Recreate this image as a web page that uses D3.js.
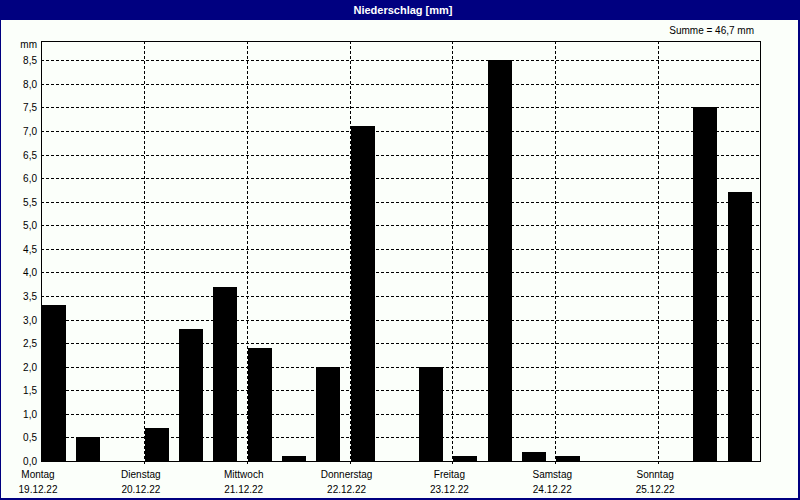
<!DOCTYPE html>
<html>
<head>
<meta charset="utf-8">
<script src="https://cdn.jsdelivr.net/npm/d3@7"></script>
<style>
html,body{margin:0;padding:0;background:#fbfffa;}
svg{display:block;}
text{font-family:"Liberation Sans",Arial,sans-serif;}
</style>
</head>
<body>
<svg id="c" width="800" height="500"></svg>
<script>
const title = "Niederschlag [mm]";
const sumLabel = "Summe = 46,7 mm";
const unitLabel = "mm";
const dayNames = ["Montag","Dienstag","Mittwoch","Donnerstag","Freitag","Samstag","Sonntag"];
const dayDates = ["19.12.22","20.12.22","21.12.22","22.12.22","23.12.22","24.12.22","25.12.22"];
const slotsPerDay = 3;
const values = [3.3,0.5,0, 0.7,2.8,3.7, 2.4,0.1,2.0, 7.1,0,2.0, 0.1,8.5,0.2, 0.1,0,0, 0,7.5,5.7];
const yTicks = [0,0.5,1,1.5,2,2.5,3,3.5,4,4.5,5,5.5,6,6.5,7,7.5,8,8.5];

const svg = d3.select("#c");
const W = 800, H = 500;
const L = 41, R = 761, T = 41, B = 461;

svg.append("rect").attr("x",0).attr("y",0).attr("width",W).attr("height",H).attr("fill","#fbfffa");
// frame
svg.append("rect").attr("x",0).attr("y",0).attr("width",W).attr("height",20).attr("fill","#000080");
svg.append("rect").attr("x",0).attr("y",0).attr("width",1).attr("height",H).attr("fill","#000080");
svg.append("rect").attr("x",798).attr("y",0).attr("width",2).attr("height",H).attr("fill","#000080");
svg.append("rect").attr("x",0).attr("y",498).attr("width",W).attr("height",2).attr("fill","#000080");

svg.append("text").attr("x",403).attr("y",14).attr("text-anchor","middle")
  .attr("fill","#fff").attr("font-weight","bold").attr("font-size","11px").text(title);
svg.append("text").attr("x",754).attr("y",34).attr("text-anchor","end")
  .attr("fill","#000").attr("font-size","10px").text(sumLabel);

const nSlots = dayNames.length * slotsPerDay;
const x = d3.scaleLinear().domain([0,nSlots]).range([L,R]);
const y = d3.scaleLinear().domain([0,8.5]).range([B,60.3]);

// horizontal grid
svg.append("g").selectAll("line").data(yTicks.filter(d=>d>0)).join("line")
  .attr("x1",L).attr("x2",R)
  .attr("y1",d=>Math.round(y(d))+0.5).attr("y2",d=>Math.round(y(d))+0.5)
  .attr("stroke","#000").attr("stroke-width",1).attr("stroke-dasharray","3,2");
// vertical day grid
const dayIdx = d3.range(1,dayNames.length);
svg.append("g").selectAll("line").data(dayIdx).join("line")
  .attr("x1",d=>Math.round(x(d*slotsPerDay))+0.5).attr("x2",d=>Math.round(x(d*slotsPerDay))+0.5)
  .attr("y1",T).attr("y2",B+4)
  .attr("stroke","#000").attr("stroke-width",1).attr("stroke-dasharray","3,2");

// bars
svg.append("g").selectAll("rect").data(values).join("rect")
  .attr("x",(d,i)=>Math.round(x(i))+1)
  .attr("width",24)
  .attr("y",d=>Math.round(y(d)))
  .attr("height",d=>B-Math.round(y(d)))
  .attr("fill","#000");

// plot frame
svg.append("rect").attr("x",L+0.5).attr("y",T+0.5).attr("width",R-L-1).attr("height",B-T)
  .attr("fill","none").attr("stroke","#000").attr("stroke-width",1);

// y tick labels
const fmt = d => d.toFixed(1).replace(".",",");
svg.append("g").selectAll("text").data(yTicks).join("text")
  .attr("x",37).attr("y",d=>y(d)+4).attr("text-anchor","end")
  .attr("font-size","10px").attr("fill","#000").text(fmt);
svg.append("text").attr("x",37).attr("y",48).attr("text-anchor","end")
  .attr("font-size","10px").attr("fill","#000").text(unitLabel);

// x labels
const days = d3.range(dayNames.length);
svg.append("g").selectAll("text").data(days).join("text")
  .attr("x",d=>x(d*slotsPerDay)-3).attr("y",478).attr("text-anchor","middle")
  .attr("font-size","10px").attr("fill","#000").text(d=>dayNames[d]);
svg.append("g").selectAll("text").data(days).join("text")
  .attr("x",d=>x(d*slotsPerDay)-3).attr("y",493).attr("text-anchor","middle")
  .attr("font-size","10px").attr("fill","#000").text(d=>dayDates[d]);
</script>
</body>
</html>
